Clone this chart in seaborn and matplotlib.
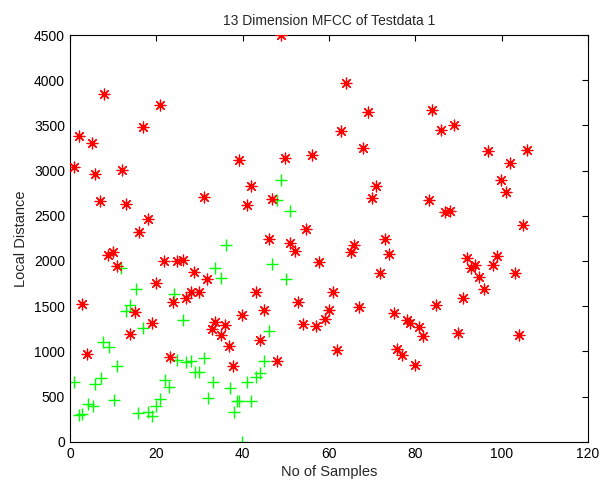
import numpy as np
import pandas as pd
import matplotlib
matplotlib.use("Agg")
import matplotlib.pyplot as plt
import seaborn as sns

# --- DATA ---

# red '*' series
red_x = [0.9, 2.1, 5.1, 7.9, 5.9, 12.0, 7.0, 13.1, 16.9, 20.8, 18.1, 15.9, 39.1, 31.0,
         49.0, 63.9, 69.0, 62.9, 67.8, 49.9, 56.0, 41.9, 70.9, 41.0, 46.7, 70.0, 54.7,
         83.9, 88.9, 86.0, 96.8, 106.0, 101.9, 99.9, 101.0, 83.2, 87.0, 88.0, 104.9,
         8.9, 10.0, 10.8, 2.85, 4.0, 15.0, 13.8, 19.0, 20.0, 21.9, 24.9, 26.1, 28.8, 31.7,
         23.9, 26.9, 28.0, 29.9, 23.1, 33.0, 33.7, 36.0, 35.0, 36.9, 37.8,
         46.1, 51.0, 52.1, 57.7, 65.9, 65.0, 73.1, 74.0, 71.9, 43.0, 61.0, 52.9, 44.9,
         39.8, 60.1, 59.0, 54.0, 57.1, 67.0, 75.0, 78.0, 78.8, 80.8, 44.1, 48.0, 61.8,
         75.8, 76.9, 80.0,
         92.0, 98.9, 93.9, 93.0, 98.0, 103.0, 94.8, 96.0, 91.1, 84.9, 81.8, 90.0, 104.0]
red_y = [3040, 3383, 3306, 3844, 2959, 3011, 2660, 2631, 3487, 3726, 2465, 2318, 3117, 2708,
         4500, 3973, 3645, 3435, 3250, 3144, 3169, 2826, 2826, 2616, 2690, 2697, 2358,
         3671, 3505, 3446, 3214, 3225, 3084, 2896, 2768, 2675, 2539, 2550, 2395,
         2071, 2100, 1941, 1524, 971, 1432, 1192, 1314, 1753, 1997, 2000, 2011, 1883, 1801,
         1543, 1591, 1661, 1661, 935, 1252, 1325, 1289, 1186, 1056, 843,
         2248, 2199, 2111, 1986, 2174, 2100, 2248, 2077, 1867, 1657, 1657, 1551, 1458,
         1403, 1455, 1355, 1300, 1281, 1496, 1429, 1352, 1314, 1270, 1130, 894, 1012,
         1031, 957, 854,
         2037, 2052, 1960, 1923, 1960, 1867, 1823, 1695, 1591, 1510, 1167, 1208, 1181]

# green '+' series
green_x = [48.9, 48.0, 51.0,
           1.0, 2.1, 2.85, 4.2, 5.25, 5.9, 7.1, 7.6, 9.0, 11.0, 10.1, 11.9, 15.2, 14.0,
           13.0, 16.9, 15.8, 18.1, 19.0, 19.9, 20.8, 22.0, 23.0, 24.1, 26.2, 24.9, 27.0,
           28.1, 29.0, 29.9, 31.1, 33.1, 32.0, 33.7, 35.0, 36.1, 37.1, 38.8, 38.0,
           46.8, 50.1, 46.0, 44.9, 44.1, 43.0, 41.1, 39.1, 41.9, 39.9]
green_y = [2896, 2671, 2550,
           666, 293, 312, 415, 400, 636, 710, 1101, 1049, 839, 467, 1919, 1687, 1513,
           1451, 1259, 323, 330, 282, 393, 470, 680, 603, 1635, 1344, 909, 879,
           894, 772, 772, 927, 666, 489, 1927, 1812, 2174, 589, 456, 326,
           1971, 1798, 1222, 894, 758, 717, 662, 451, 445, 0]

x_ticks = [0, 20, 40, 60, 80, 100, 120]
y_ticks = [0, 500, 1000, 1500, 2000, 2500, 3000, 3500, 4000, 4500]

red_df = pd.DataFrame({'x': red_x, 'y': red_y})
green_df = pd.DataFrame({'x': green_x, 'y': green_y})

# --- PLOT ---
sns.set_style('white')
plt.rcParams['font.family'] = ['Liberation Sans', 'DejaVu Sans']

fig = plt.figure(figsize=(6.03, 4.87), dpi=100)
ax = fig.add_axes([0.116, 0.093, 0.859, 0.835])

sns.scatterplot(data=green_df, x='x', y='y', ax=ax, marker='+', color='#00ff00',
                s=85, linewidth=1.0, zorder=2)
sns.scatterplot(data=red_df, x='x', y='y', ax=ax, marker=(8, 2, 0), color='#ff0000',
                s=60, linewidth=0.9, zorder=3)

ax.set_xlim(0, 120)
ax.set_ylim(0, 4500)
ax.set_xticks(x_ticks)
ax.set_yticks(y_ticks)
ax.tick_params(direction='in', top=True, right=True, length=4, width=0.8,
               labelsize=10, colors='black')

for side in ax.spines.values():
    side.set_color('black')
    side.set_linewidth(0.8)

ax.set_title('13 Dimension MFCC of Testdata 1', fontsize=10, pad=7)
ax.set_xlabel('No of Samples', fontsize=10.5, labelpad=3)
ax.set_ylabel('Local Distance', fontsize=10.5, labelpad=4)

fig.savefig('out.png', dpi=100)
